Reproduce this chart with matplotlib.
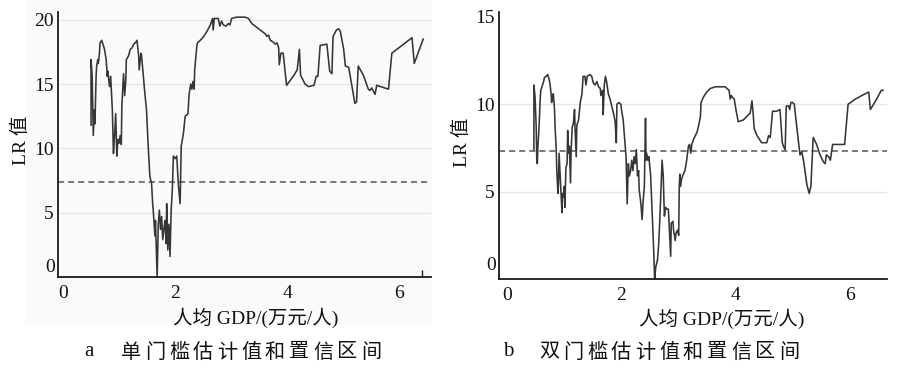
import matplotlib
matplotlib.use('Agg')
import matplotlib.pyplot as plt
from matplotlib.patches import Rectangle
from matplotlib.transforms import offset_copy

# ---------------- data ----------------
x_a = [0.50, 0.50, 0.52, 0.54, 0.56, 0.57, 0.59, 0.60, 0.62, 0.63, 0.65, 0.66, 0.69, 0.72, 0.74,
       0.77, 0.79, 0.80, 0.83, 0.85, 0.88, 0.90, 0.92, 0.94, 0.96, 0.98, 1.00, 1.02, 1.04, 1.05,
       1.08, 1.10, 1.12, 1.13, 1.17, 1.20, 1.23, 1.26, 1.29, 1.32, 1.35, 1.36, 1.39, 1.40, 1.43,
       1.46, 1.49, 1.52, 1.55, 1.58, 1.60, 1.61, 1.64, 1.65, 1.68, 1.70, 1.72, 1.74, 1.76, 1.78,
       1.80, 1.82, 1.84, 1.85, 1.87, 1.89, 1.91, 1.93, 1.95, 1.97, 2.00, 2.03, 2.06, 2.09, 2.11,
       2.12, 2.15, 2.18, 2.21, 2.23, 2.25, 2.28, 2.30, 2.32, 2.34, 2.35, 2.39, 2.40, 2.45, 2.51,
       2.57, 2.63, 2.67, 2.68, 2.70, 2.77, 2.80, 2.83, 2.86, 2.91, 2.95, 2.98, 3.01, 3.10, 3.25,
       3.31, 3.37, 3.43, 3.52, 3.61, 3.64, 3.67, 3.70, 3.74, 3.79, 3.82, 3.85, 3.86, 3.89, 3.93,
       3.99, 4.11, 4.18, 4.22, 4.24, 4.32, 4.38, 4.48, 4.52, 4.55, 4.59, 4.71, 4.76, 4.80, 4.82,
       4.88, 4.92, 4.95, 5.01, 5.04, 5.10, 5.21, 5.24, 5.27, 5.36, 5.45, 5.48, 5.51, 5.57, 5.60,
       5.81, 5.87, 6.23, 6.27, 6.43]
lr_a = [11.8, 16.9, 15.6, 11.0, 13.0, 11.9, 15.6, 16.4, 16.9, 16.6, 17.4, 18.2, 18.4, 18.0, 17.7,
        16.9, 15.6, 16.0, 14.8, 15.6, 13.0, 9.6, 11.0, 12.7, 9.4, 10.7, 10.4, 11.0, 10.3, 13.3,
        15.8, 14.1, 15.3, 16.9, 17.2, 17.7, 17.8, 18.1, 18.2, 18.4, 17.2, 16.1, 17.4, 17.3, 15.8,
        14.3, 13.0, 10.2, 7.8, 7.3, 5.7, 5.2, 3.2, 4.4, 0.0, 4.1, 5.2, 3.7, 4.7, 2.9,
        3.7, 4.4, 2.6, 5.7, 2.1, 4.1, 1.6, 5.2, 6.7, 9.4, 9.2, 9.4, 7.1, 5.7, 10.2,
        10.4, 11.2, 12.5, 12.6, 12.7, 14.2, 15.0, 14.6, 15.2, 14.6, 16.1, 18.0, 18.2, 18.4, 18.7,
        19.1, 19.6, 20.1, 19.2, 20.1, 20.1, 19.5, 19.9, 19.6, 19.5, 19.7, 19.6, 20.1, 20.2, 20.2,
        20.1, 19.7, 19.5, 19.2, 18.9, 18.7, 18.8, 18.4, 18.3, 18.1, 18.2, 17.8, 16.5, 17.4, 17.4,
        14.9, 15.6, 16.1, 17.7, 15.7, 15.0, 14.8, 14.9, 15.6, 15.6, 18.0, 18.1, 16.0, 15.8, 18.7,
        19.2, 19.3, 19.1, 17.7, 16.4, 16.3, 13.5, 13.6, 16.4, 15.7, 14.6, 14.5, 14.7, 14.2, 14.9,
        14.6, 17.4, 18.6, 16.6, 18.5]

x_b = [0.47, 0.47, 0.49, 0.51, 0.52, 0.53, 0.54, 0.56, 0.58, 0.59, 0.62, 0.64, 0.65, 0.68, 0.69,
       0.71, 0.73, 0.75, 0.77, 0.78, 0.79, 0.81, 0.83, 0.84, 0.86, 0.87, 0.89, 0.90, 0.91, 0.93,
       0.95, 0.96, 0.97, 0.99, 1.00, 1.01, 1.03, 1.05, 1.06, 1.07, 1.09, 1.11, 1.12, 1.14, 1.16,
       1.18, 1.19, 1.21, 1.22, 1.25, 1.28, 1.31, 1.33, 1.36, 1.38, 1.40, 1.45, 1.48, 1.51, 1.54,
       1.57, 1.60, 1.63, 1.64, 1.67, 1.68, 1.70, 1.72, 1.74, 1.77, 1.80, 1.83, 1.86, 1.89, 1.91,
       1.92, 1.95, 1.99, 2.00, 2.03, 2.06, 2.08, 2.10, 2.12, 2.14, 2.16, 2.18, 2.20, 2.22, 2.24,
       2.26, 2.28, 2.30, 2.31, 2.34, 2.36, 2.38, 2.40, 2.42, 2.43, 2.44, 2.46, 2.48, 2.49, 2.51,
       2.53, 2.56, 2.58, 2.60, 2.63, 2.65, 2.67, 2.71, 2.73, 2.75, 2.77, 2.79, 2.82, 2.84, 2.86,
       2.87, 2.90, 2.91, 2.94, 2.95, 2.98, 3.00, 3.01, 3.02, 3.03, 3.05, 3.08, 3.11, 3.14, 3.17,
       3.19, 3.21, 3.23, 3.26, 3.32, 3.35, 3.38, 3.39, 3.43, 3.49, 3.55, 3.64, 3.72, 3.81, 3.88,
       3.90, 3.92, 3.94, 3.97, 4.00, 4.04, 4.13, 4.22, 4.25, 4.28, 4.30, 4.32, 4.37, 4.43, 4.45,
       4.54, 4.57, 4.60, 4.64, 4.71, 4.77, 4.81, 4.83, 4.86, 4.88, 4.92, 4.94, 4.96, 4.99, 5.02,
       5.06, 5.12, 5.15, 5.18, 5.24, 5.28, 5.31, 5.35, 5.41, 5.47, 5.53, 5.56, 5.58, 5.62, 5.65,
       5.69, 5.76, 5.90, 5.96, 6.09, 6.20, 6.32, 6.35, 6.46, 6.54, 6.57]
lr_b = [7.4, 11.1, 10.4, 8.7, 6.8, 6.6, 7.6, 8.7, 10.3, 10.8, 11.1, 11.3, 11.5, 11.6, 11.6,
        11.7, 11.5, 11.2, 10.6, 10.1, 10.4, 10.6, 9.7, 8.7, 7.4, 6.2, 4.9, 5.5, 7.2, 5.9,
        4.5, 3.8, 4.9, 4.7, 5.3, 4.1, 6.4, 6.6, 8.5, 7.2, 7.6, 5.5, 7.4, 8.7, 8.9,
        9.7, 8.5, 7.0, 8.8, 9.1, 10.1, 10.6, 11.6, 11.6, 11.1, 11.6, 11.7, 11.6, 11.2, 11.1,
        11.3, 11.0, 10.9, 10.5, 10.8, 9.4, 11.1, 11.6, 11.3, 10.6, 10.3, 9.9, 9.5, 9.0, 7.8,
        10.0, 10.1, 10.0, 9.7, 9.1, 7.8, 7.0, 4.3, 6.6, 5.9, 6.2, 6.8, 6.2, 7.0, 6.6,
        7.4, 5.9, 6.2, 5.1, 4.3, 3.4, 4.5, 5.3, 9.2, 6.8, 7.2, 6.8, 7.0, 6.6, 5.9,
        4.3, 1.9, 0.0, 0.7, 1.1, 2.0, 3.4, 6.8, 5.9, 3.6, 4.1, 4.0, 4.0, 2.6, 1.3,
        3.2, 3.3, 2.8, 2.2, 2.6, 2.8, 2.5, 5.3, 6.0, 5.3, 5.7, 6.0, 6.2, 6.8, 7.6,
        7.7, 7.2, 7.7, 8.0, 8.4, 8.8, 9.3, 10.1, 10.4, 10.7, 10.9, 11.0, 11.0, 11.0, 10.8,
        10.3, 10.5, 10.4, 10.3, 9.7, 9.0, 9.1, 9.4, 9.5, 10.2, 9.5, 8.6, 8.2, 7.9, 7.8,
        7.8, 8.2, 8.1, 9.6, 9.6, 9.7, 7.8, 7.6, 7.4, 9.9, 9.9, 9.7, 10.1, 10.1, 10.0,
        8.8, 7.1, 7.3, 6.8, 5.4, 4.9, 5.3, 8.1, 7.7, 7.1, 6.7, 6.6, 7.1, 7.0, 6.8,
        7.7, 7.7, 7.7, 10.0, 10.3, 10.5, 10.7, 9.7, 10.3, 10.8, 10.8]

crit_a = 7.35
crit_b = 7.35
xticks = [0, 2, 4, 6]
xtickmarks_a = [0, 2, 4, 6.4]
xtickmarks_b = [0, 2, 4, 6]
yticks_a = [0, 5, 10, 15, 20]
yticks_b = [0, 5, 10, 15]
grid_a = [5, 10, 15, 20]
grid_b = [5, 10]
ylabel = 'LR 值'
xlabel = '人均 GDP/(万元/人)'
caption_a = ('a', '单门槛估计值和置信区间')
caption_b = ('b', '双门槛估计值和置信区间')

# ---------------- style ----------------
SERIF = 'Liberation Serif'
CJK = 'Noto Sans CJK SC'
plt.rcParams['font.family'] = [SERIF, CJK]

W, H = 902, 367
fig = plt.figure(figsize=(W / 100, H / 100), dpi=100)
fig.patch.set_facecolor('white')

# very faint grey panel behind the left chart (as in the scanned original)
fig.patches.append(Rectangle((25 / W, 1 - 325 / H), (432 - 25) / W, 325 / H,
                             transform=fig.transFigure, facecolor='#fafafa',
                             edgecolor='none', zorder=-10))

LINE_C = '#363636'
DASH_C = '#555555'
GRID_C = '#e6e6e6'
SPINE_C = '#1a1a1a'
TXT_C = '#111111'


def setup(ax, xs, ys, crit, yticks, grid, xmarks, xlim, ylim, zero_shift):
    for g in grid:
        ax.axhline(g, color=GRID_C, lw=1.0, zorder=0)
    ax.axhline(crit, color=DASH_C, lw=1.1, ls=(0, (4, 2.6)), zorder=1)
    ax.plot(xs, ys, color=LINE_C, lw=1.15, zorder=2)
    ax.set_xlim(*xlim)
    ax.set_ylim(*ylim)
    ax.patch.set_alpha(0.0)
    for s in ['top', 'right']:
        ax.spines[s].set_visible(False)
    for s in ['left', 'bottom']:
        ax.spines[s].set_color(SPINE_C)
        ax.spines[s].set_linewidth(1.3)
    ax.set_xticks(xticks)
    ax.set_xticklabels([str(t) for t in xticks])
    ax.set_xticks(xmarks, minor=True)
    ax.set_yticks(yticks)
    # the "0" label sits a little above the axis line in the original
    ax.set_yticklabels([''] + [str(t) for t in yticks[1:]])
    ax.text(0, yticks[0], str(yticks[0]), ha='right', va='center', fontsize=14, color=TXT_C,
            transform=offset_copy(ax.get_yaxis_transform(), fig=fig, x=-2.2, y=zero_shift,
                                  units='points'))
    ax.set_yticks([yticks[0], yticks[-1]], minor=True)
    ax.tick_params(axis='y', which='major', length=0, pad=3, labelsize=14, colors=TXT_C)
    ax.tick_params(axis='y', which='minor', length=5, width=1.0, direction='in', color=SPINE_C)
    ax.tick_params(axis='x', which='major', length=0, pad=6, labelsize=14, colors=TXT_C)
    ax.tick_params(axis='x', which='minor', length=5, width=1.0, direction='in', color=SPINE_C)


axA = fig.add_axes([58 / W, 1 - 277 / H, 372.5 / W, 265 / H])
setup(axA, x_a, lr_a, crit_a, yticks_a, grid_a, xtickmarks_a, (-0.09, 6.56), (0, 20.6), 6.5)

axB = fig.add_axes([499 / W, 1 - 279 / H, 388 / W, 267 / H])
setup(axB, x_b, lr_b, crit_b, yticks_b, grid_b, xtickmarks_b, (-0.14, 6.64), (0, 15.28), 9.5)

# y labels
fig.text(21 / W, 1 - 140 / H, ylabel, rotation=90, ha='center', va='center', fontsize=14,
         color=TXT_C)
fig.text(462 / W, 1 - 142 / H, ylabel, rotation=90, ha='center', va='center', fontsize=14,
         color=TXT_C)

# x labels
fig.text(256 / W, 1 - 318 / H, xlabel, ha='center', va='center', fontsize=14, color=TXT_C)
fig.text(722 / W, 1 - 319 / H, xlabel, ha='center', va='center', fontsize=14, color=TXT_C)


# captions (letter-spaced CJK)
def caption(letter, text, x_letter, x_first, y):
    fig.text(x_letter / W, 1 - y / H, letter, ha='center', va='center', fontsize=15,
             family=SERIF, color=TXT_C)
    for i, ch in enumerate(text):
        fig.text((x_first + 24 * i) / W, 1 - y / H, ch, ha='center', va='center',
                 fontsize=14.5, family=[CJK], color=TXT_C)


caption(caption_a[0], caption_a[1], 89, 131, 352)
caption(caption_b[0], caption_b[1], 508, 549, 352)

fig.savefig('out.png', dpi=100, facecolor='white')
